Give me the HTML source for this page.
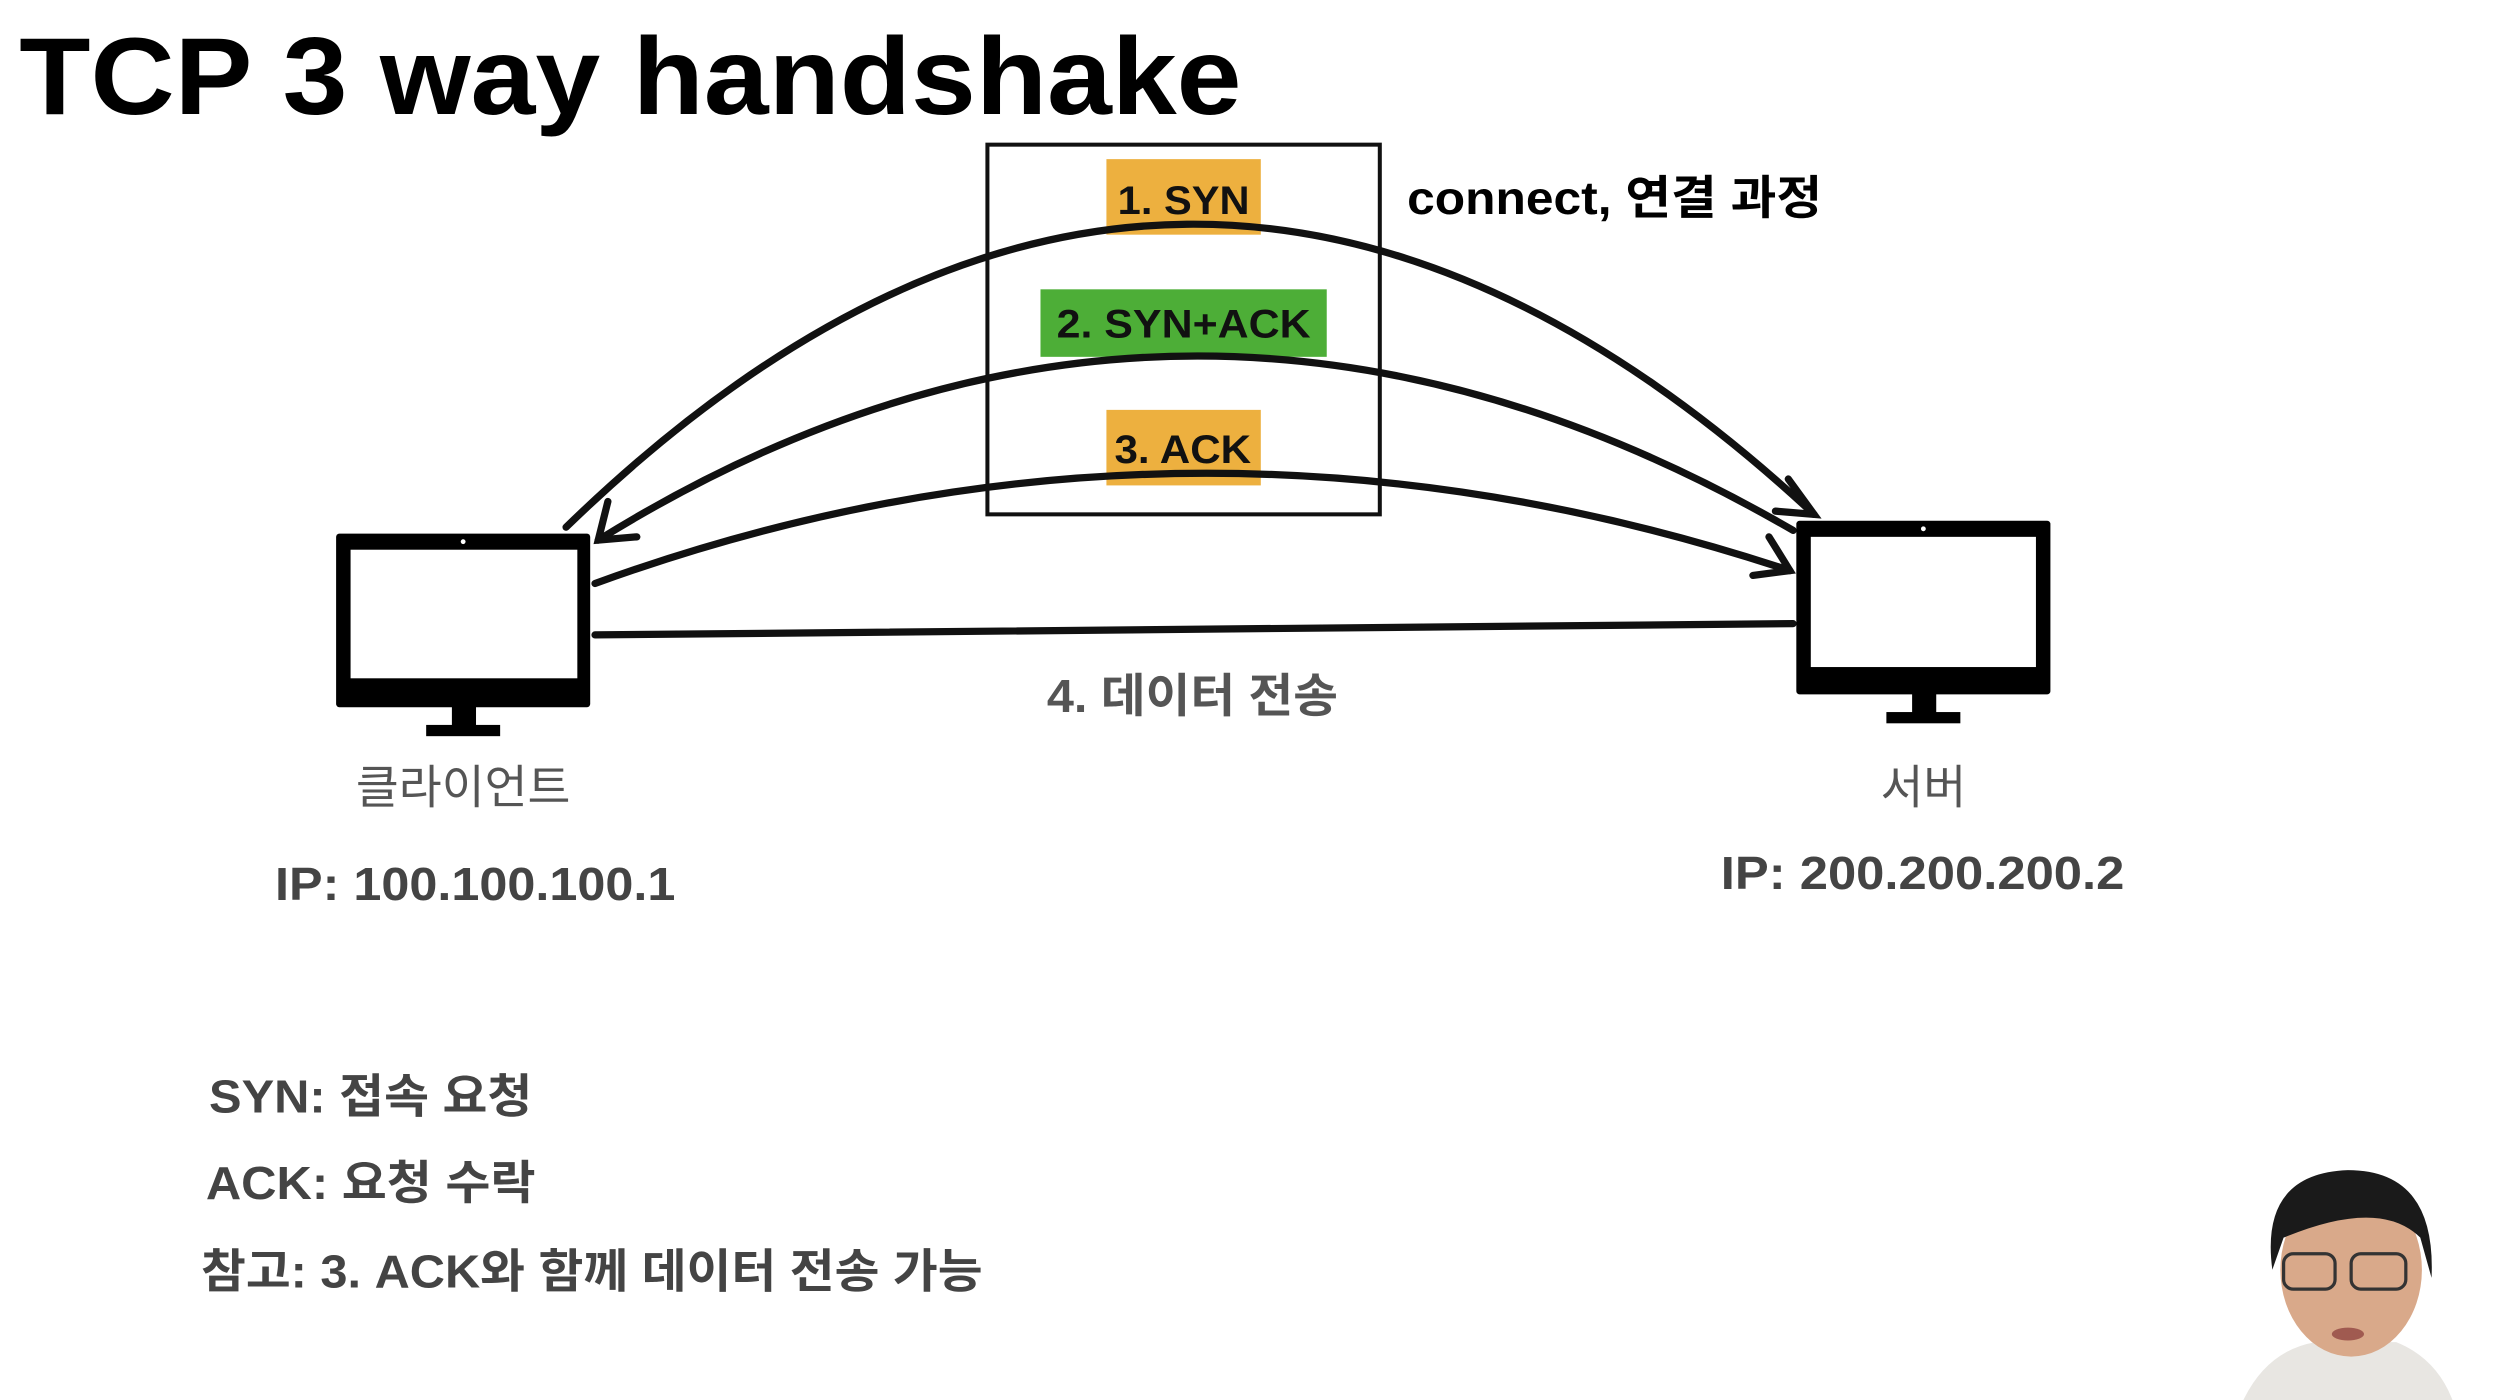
<!DOCTYPE html>
<html><head><meta charset="utf-8"><style>
html,body{margin:0;padding:0;background:#fff;width:2520px;height:1400px;overflow:hidden}
svg{display:block}
text{font-family:"Liberation Sans","Noto Sans CJK KR","NanumGothic",sans-serif}
</style></head><body>
<svg width="2520" height="1400" viewBox="0 0 1567 871" preserveAspectRatio="none" xmlns="http://www.w3.org/2000/svg">
<rect width="1567" height="871" fill="#fff"/>
<text x="12" y="71" font-size="68" font-weight="bold" fill="#000" textLength="760" lengthAdjust="spacingAndGlyphs">TCP 3 way handshake</text>
<rect x="614" y="90" width="244" height="230" fill="none" stroke="#111" stroke-width="2.5"/>
<rect x="688" y="99" width="96" height="47" fill="#EDB03F"/>
<rect x="647" y="180" width="178" height="42" fill="#4DAE37"/>
<rect x="688" y="255" width="96" height="47" fill="#EDB03F"/>
<text x="695" y="133" font-size="25" font-weight="bold" fill="#111" textLength="82" lengthAdjust="spacingAndGlyphs">1. SYN</text>
<text x="657" y="210" font-size="25" font-weight="bold" fill="#111" textLength="158" lengthAdjust="spacingAndGlyphs">2. SYN+ACK</text>
<text x="693" y="288" font-size="25" font-weight="bold" fill="#111" textLength="85" lengthAdjust="spacingAndGlyphs">3. ACK</text>
<text x="875" y="133" font-size="29" font-weight="bold" fill="#000" textLength="258" lengthAdjust="spacingAndGlyphs">connect, 연결 과정</text>
<g fill="none" stroke="#111" stroke-width="4.5" stroke-linecap="round">
<path d="M352 328 Q736 -45 1128 320"/>
<path d="M1112 298 L1128 320 L1104 318"/>
<path d="M1115 330 Q736 110 372 336"/>
<path d="M378 312 L372 336 L396 334"/>
<path d="M370 363 Q736 230 1113 355"/>
<path d="M1100 334 L1113 355 L1090 358"/>
<path d="M370 395 L1115 388"/>
</g>
<g fill="#000">
<rect x="209" y="332" width="158" height="108" rx="2"/>
<rect x="281" y="438" width="15" height="15"/>
<rect x="265" y="451" width="46" height="7"/>
<rect x="1117" y="324" width="158" height="108" rx="2"/>
<rect x="1189" y="430" width="15" height="15"/>
<rect x="1173" y="443" width="46" height="7"/>
</g>
<rect x="218" y="342" width="141" height="80" fill="#fff"/>
<rect x="1126" y="334" width="140" height="81" fill="#fff"/>
<circle cx="288" cy="337" r="1.5" fill="#fff"/>
<circle cx="1196" cy="329" r="1.5" fill="#fff"/>
<text x="651" y="443" font-size="29" font-weight="bold" fill="#555" textLength="181" lengthAdjust="spacingAndGlyphs">4. 데이터 전송</text>
<text x="288" y="500" font-size="29" text-anchor="middle" fill="#555">클라이언트</text>
<text x="1196" y="500" font-size="29" text-anchor="middle" fill="#555">서버</text>
<text x="171" y="560" font-size="29" font-weight="bold" fill="#444" textLength="249" lengthAdjust="spacingAndGlyphs">IP: 100.100.100.1</text>
<text x="1070" y="553" font-size="29" font-weight="bold" fill="#444" textLength="251" lengthAdjust="spacingAndGlyphs">IP: 200.200.200.2</text>
<text x="130" y="692" font-size="29" font-weight="bold" fill="#444" textLength="201" lengthAdjust="spacingAndGlyphs">SYN: 접속 요청</text>
<text x="128" y="746" font-size="29" font-weight="bold" fill="#444" textLength="205" lengthAdjust="spacingAndGlyphs">ACK: 요청 수락</text>
<text x="125" y="801" font-size="29" font-weight="bold" fill="#444" textLength="486" lengthAdjust="spacingAndGlyphs">참고: 3. ACK와 함께 데이터 전송 가능</text>
<!-- person -->
<path d="M1395 871 Q1410 840 1440 835 L1490 835 Q1515 845 1525 871 Z" fill="#e8e6e2"/>
<ellipse cx="1462" cy="790" rx="44" ry="54" fill="#d9a98a"/>
<path d="M1413 790 Q1405 730 1460 728 Q1515 728 1512 795 L1505 770 Q1480 745 1420 770 Z" fill="#1a1a1a"/>
<g fill="none" stroke="#333" stroke-width="2"><rect x="1420" y="780" width="32" height="22" rx="6"/><rect x="1462" y="780" width="34" height="22" rx="6"/></g>
<ellipse cx="1460" cy="830" rx="10" ry="4" fill="#a05a50"/>
</svg>
</body></html>
